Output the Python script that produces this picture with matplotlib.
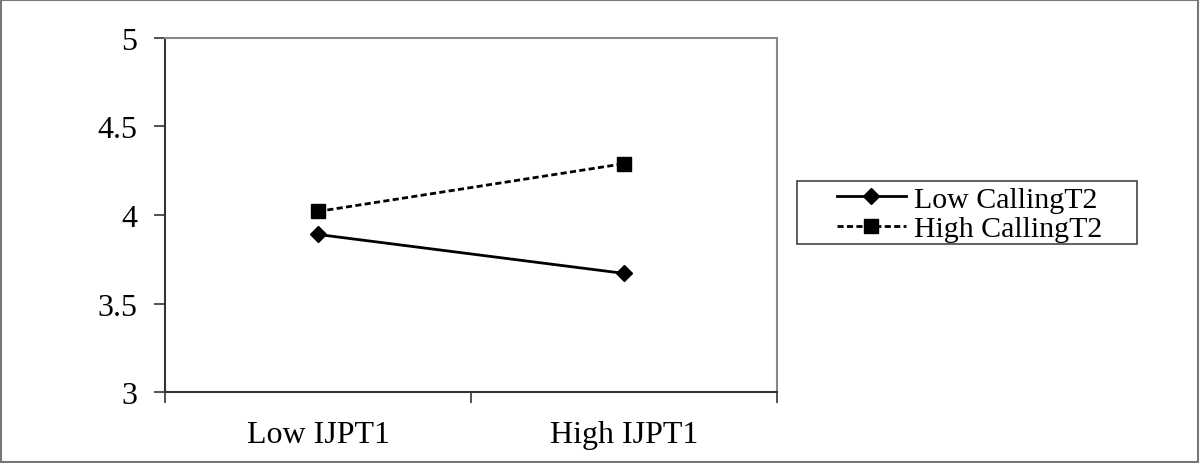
import matplotlib.pyplot as plt
from matplotlib.patches import Rectangle

plt.rcParams['font.family'] = ['Liberation Serif', 'DejaVu Serif']

categories = ['Low IJPT1', 'High IJPT1']
low_calling = [3.89, 3.67]
high_calling = [4.02, 4.29]
y_ticks = [3, 3.5, 4, 4.5, 5]
y_tick_labels = ['3', '3.5', '4', '4.5', '5']

fig = plt.figure(figsize=(12, 4.64), dpi=100)
ax = fig.add_axes([0.1375, 0.153, 0.51, 0.763])

x = list(range(len(categories)))
ax.plot(x, low_calling, color='black', linestyle='-', linewidth=2,
        marker='D', markersize=8, label='Low CallingT2')
ax.plot(x, high_calling, color='black', linestyle=(0, (2.2, 1.2)), linewidth=2,
        marker='s', markersize=10.5, label='High CallingT2')

ax.set_xlim(-0.5, 1.5)
ax.set_ylim(3, 5)
ax.set_yticks(y_ticks)
ax.set_yticklabels(y_tick_labels, fontsize=23)
ax.set_xticks(x)
ax.set_xticklabels(categories, fontsize=23)
ax.set_xticks([-0.5, 0.5, 1.5], minor=True)
ax.tick_params(axis='x', which='major', length=0, pad=20)
ax.tick_params(axis='x', which='minor', length=8, width=1.2, color='#333333')
ax.tick_params(axis='y', length=8, width=1.2, color='#333333', pad=12)

for side in ['left', 'bottom']:
    ax.spines[side].set_color('#333333')
    ax.spines[side].set_linewidth(1.5)
for side in ['top', 'right']:
    ax.spines[side].set_color('#888888')
    ax.spines[side].set_linewidth(1.5)

# legend frame drawn separately to get the wide side padding
fig.patches.append(Rectangle((797 / 1200, 1 - 245 / 464), 340 / 1200, 63 / 464,
                             transform=fig.transFigure, fill=False,
                             edgecolor='#444444', linewidth=1.2))
fig.legend(loc='center left', bbox_to_anchor=(837 / 1200, 1 - 215 / 464),
           fontsize=21.5, frameon=False, borderpad=0, borderaxespad=0,
           handlelength=2.3, handletextpad=0.27, labelspacing=0.08)

fig.patches.append(Rectangle((0.001, 0.002), 0.997, 0.996, transform=fig.transFigure,
                             fill=False, edgecolor='#777777', linewidth=1.5))

fig.savefig('out.png', dpi=100)
